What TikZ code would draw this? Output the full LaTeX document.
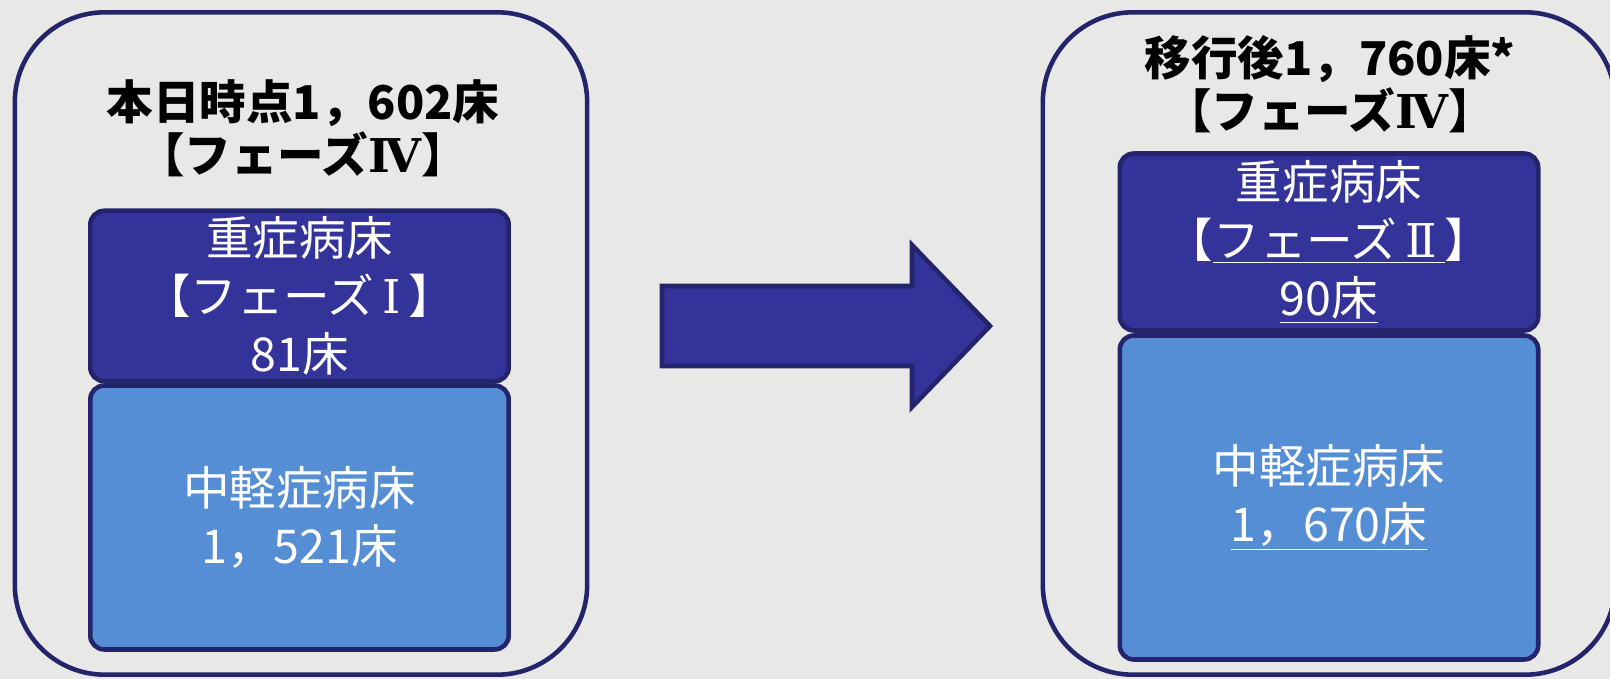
\documentclass[tikz,border=0pt]{standalone}
\usepackage{fontspec}
\usepackage{tikz}
\usetikzlibrary{shapes}
\newfontfamily\jpfont{Noto Sans CJK JP}
\newfontfamily\numfont{DejaVu Serif}
\newcommand{\rn}[1]{{\numfont #1}}

\begin{document}
\begin{tikzpicture}[x=0.02cm,y=-0.02cm]
		
		\definecolor{paper}{RGB}{232,232,230}
		\definecolor{navy}{RGB}{36,36,108}
		\definecolor{darkblue}{RGB}{51,51,153}
		\definecolor{lightblue}{RGB}{85,142,213}
		
		\fill[paper] (0,0) rectangle (1610,679);
		\useasboundingbox (0,0) rectangle (1610,679);
		
		\tikzstyle{frame} = [draw=navy, line width=2.6pt, rounded corners=1.8cm, minimum width=11.45cm, minimum height=13.25cm]
		\tikzstyle{push} = [draw=navy, fill=darkblue, line width=2.6pt]
		
		\node[frame] (now) at (301,343.5) {};
		\node[frame] (after) at (1329,343.5) {};
		
		\tikzset{title/.style = {font=\jpfont\bfseries\fontsize{26.5}{30}\selectfont, align=center, text=black}}
		\node[title] (nowtitle) at (303,128) {本日時点1，602床\\【フェーズ\rn{Ⅳ}】};
		\node[title] (aftertitle) at (1330,84) {移行後1，760床*\\【フェーズ\rn{Ⅳ}】};
		
		\tikzset{ward/.style = {shape=rectangle, draw=navy, line width=2.6pt, rounded corners=0.28cm, text=white, align=center, minimum width=8.37cm, font=\jpfont\fontsize{26.5}{33}\selectfont}}
		\node[ward, fill=darkblue, minimum height=3.38cm] (nowsevere) at (299.5,296) {重症病床\\【フェーズ\,\rn{Ⅰ}\,】\\81床};
		\node[ward, fill=lightblue, minimum height=5.28cm] (nowmild) at (299.5,517.5) {中軽症病床\\1，521床};
		\node[ward, fill=darkblue, minimum height=3.54cm] (aftersevere) at (1329,242) {重症病床\\【\underline{フェーズ\,\rn{Ⅱ}\,}】\\\underline{90床}};
		\node[ward, fill=lightblue, minimum height=6.48cm] (aftermild) at (1329,497.5) {中軽症病床\\\underline{1，670床}};
		%\node[ward, fill=lightblue, minimum height=6.48cm] (aftermild) at (1329,497.5) {中軽症病床\\1，670床};
		
		\coordinate (tail) at (662,325.5);
		\draw[push] (tail) ++(0,-39.5) -- ++(250,0) -- ++(0,-41) -- ++(78,81) -- ++(-78,81) -- ++(0,-41) -- ++(-250,0) -- cycle;
		\end{tikzpicture}
\end{document}
